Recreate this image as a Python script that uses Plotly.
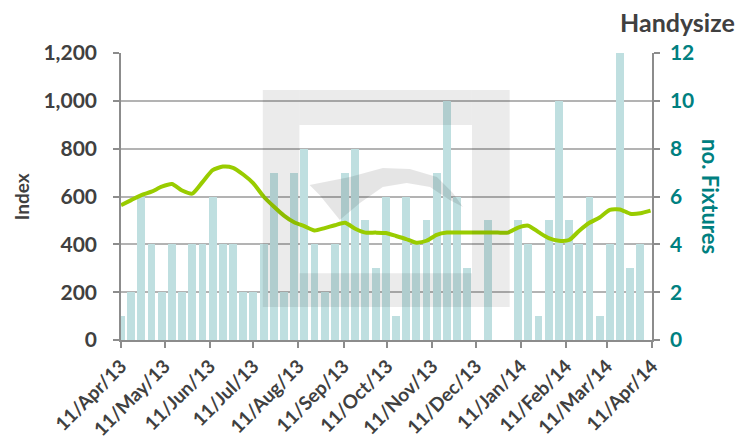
import plotly.graph_objects as go
import pandas as pd

# Weekly fixtures (right axis) and Handysize index (left axis)
fixture_weeks = pd.date_range("2013-04-11", periods=52, freq="7D")
fixtures = [1, 2, 6, 4, 2, 4, 2, 4, 4, 6, 4, 4, 2,
            2, 4, 7, 2, 7, 8, 4, 2, 4, 7, 8, 5, 3,
            6, 1, 6, 4, 5, 7, 10, 6, 3, 0, 5, 0, 0,
            5, 4, 1, 5, 10, 5, 4, 6, 1, 4, 12, 3, 4]

index_weeks = pd.date_range("2013-04-11", periods=53, freq="7D")
index_values = [564, 585, 606, 620, 641, 652, 625, 612, 660, 710,
                725, 720, 692, 655, 600, 558, 520, 492, 476, 458,
                468, 480, 490, 465, 449, 449, 447, 435, 422, 407,
                415, 440, 449, 449, 449, 449, 449, 449, 449, 470,
                478, 451, 426, 415, 418, 457, 490, 512, 544, 546,
                528, 530, 541]

month_ticks = pd.date_range("2013-04-01", "2014-04-01", freq="MS") + pd.Timedelta(days=10)
month_labels = [d.strftime("%d/%b/%y") for d in month_ticks]

index_ticks = [0, 200, 400, 600, 800, 1000, 1200]
fixture_ticks = [0, 2, 4, 6, 8, 10, 12]

DARK = "#404040"
TEAL = "#008080"
FONT = "Lato"

fig = go.Figure()
fig.add_trace(go.Bar(
    x=fixture_weeks, y=fixtures, yaxis="y",
    marker=dict(color="#bfdfe0", line=dict(width=0)),
    width=5.4 * 86400000, name="no. Fixtures",
))
fig.add_trace(go.Scatter(
    x=index_weeks, y=index_values, yaxis="y2", mode="lines",
    line=dict(color="#99cc00", width=4, shape="spline", smoothing=0.6),
    name="Index",
))

axis_line = dict(showline=True, linecolor="#8c8c8c", linewidth=1.5,
                 ticks="outside", tickcolor="#8c8c8c", ticklen=6, tickwidth=1.5,
                 automargin=False)

fig.update_layout(
    width=752, height=445, autosize=False,
    margin=dict(l=121, r=100, t=53, b=105),
    paper_bgcolor="white", plot_bgcolor="white",
    showlegend=False, bargap=0,
    font=dict(family=FONT, color=DARK),
    xaxis=dict(
        range=["2013-04-11", "2014-04-11"], type="date",
        tickvals=month_ticks, ticktext=month_labels, tickangle=-45,
        tickfont=dict(size=19, color=DARK, weight="bold"),
        showgrid=False, zeroline=False, **axis_line,
    ),
    yaxis=dict(
        side="right", range=[0, 12], tickvals=fixture_ticks,
        tickfont=dict(size=21, color=TEAL, weight="bold"),
        showgrid=True, gridcolor="#b3b3b3", gridwidth=1.5, zeroline=False,
        ticklabelstandoff=6, **axis_line,
    ),
    yaxis2=dict(
        side="left", overlaying="y", range=[0, 1200], tickvals=index_ticks,
        tickformat=",", tickfont=dict(size=21, color=DARK, weight="bold"),
        showgrid=False, zeroline=False, ticklabelstandoff=12, **axis_line,
    ),
)

# axis titles
fig.add_annotation(text="Index", xref="paper", yref="paper", x=-0.187, y=0.5,
                   xanchor="center", yanchor="middle",
                   textangle=-90, showarrow=False,
                   font=dict(size=19, color=DARK, weight="bold"))
fig.add_annotation(text="no. Fixtures", xref="paper", yref="paper", x=1.11, y=0.5,
                   xanchor="center", yanchor="middle",
                   textangle=90, showarrow=False,
                   font=dict(size=22, color=TEAL, weight="bold"))
fig.add_annotation(text="Handysize", xref="paper", yref="paper", x=1.048, y=1.108,
                   xanchor="center", yanchor="middle",
                   showarrow=False, font=dict(size=25, color=DARK, weight="bold"))

# faint logo watermark over the plot area
shade = "rgba(0,0,0,0.08)"
for x0, x1, y0, y1 in [(0.267, 0.336, 0.115, 0.871), (0.661, 0.732, 0.115, 0.871),
                       (0.336, 0.661, 0.749, 0.871), (0.336, 0.661, 0.115, 0.233)]:
    fig.add_shape(type="rect", xref="paper", yref="paper", x0=x0, x1=x1, y0=y0, y1=y1,
                  fillcolor=shade, line=dict(width=0), layer="above")
wave = [(0.355, 0.540), (0.431, 0.568), (0.493, 0.599), (0.544, 0.596), (0.595, 0.568),
        (0.625, 0.512), (0.644, 0.463), (0.619, 0.488), (0.582, 0.533), (0.538, 0.547),
        (0.493, 0.533), (0.450, 0.477), (0.412, 0.418), (0.374, 0.505)]
path = "M " + " L ".join(f"{x},{y}" for x, y in wave) + " Z"
fig.add_shape(type="path", xref="paper", yref="paper", path=path,
              fillcolor="rgba(0,0,0,0.1)", line=dict(width=0), layer="above")

fig.write_html("out.html")
